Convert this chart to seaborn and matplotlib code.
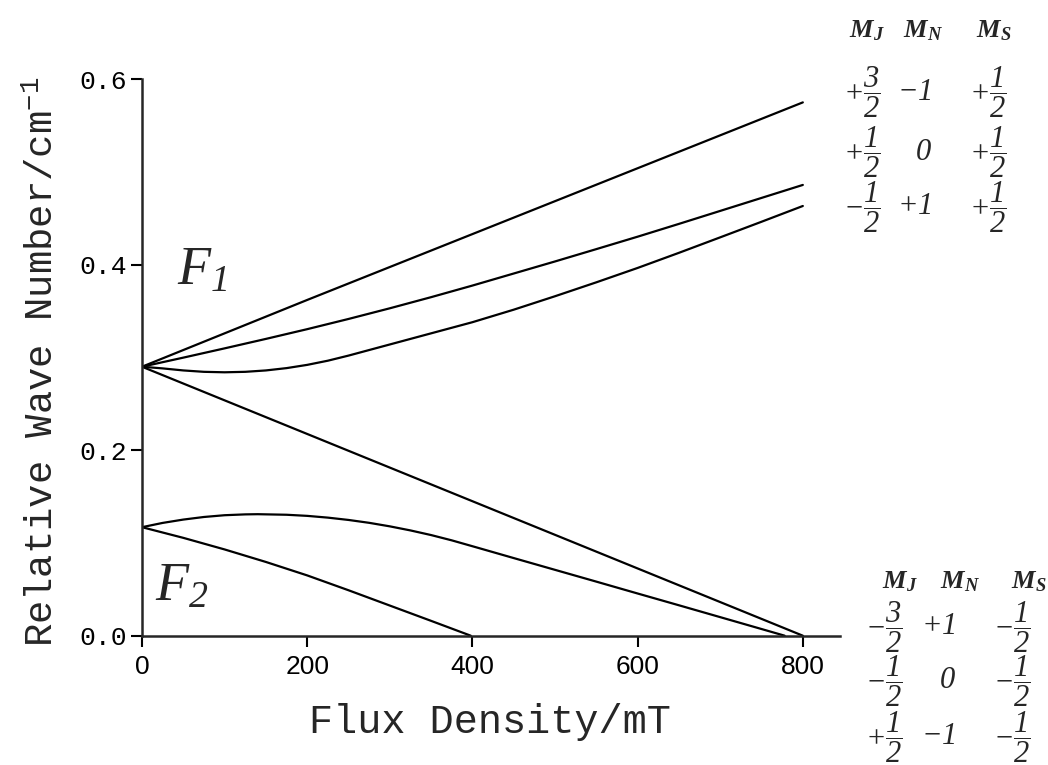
import matplotlib
matplotlib.use("Agg")
import matplotlib.pyplot as plt
import numpy as np
import pandas as pd
import seaborn as sns

# Zeeman components of the N = 1 level: flux density (mT) and relative wave number (cm^-1)
b_f1_a = [0, 200, 400, 600, 800]
nu_f1_a = [0.290, 0.362, 0.433, 0.504, 0.575]

b_f1_b = [0, 50, 100, 150, 200, 250, 300, 350, 400, 450, 500, 550, 600, 650, 700, 750, 800]
nu_f1_b = [0.290, 0.2998, 0.3098, 0.3200, 0.3305, 0.3415, 0.3530, 0.3650, 0.3775, 0.3905,
           0.4035, 0.4168, 0.4302, 0.4440, 0.4580, 0.4720, 0.4860]

b_f1_c = [0, 25, 50, 75, 100, 125, 150, 175, 200, 225, 250, 300, 350, 400, 450, 500, 550,
          600, 650, 700, 750, 800]
nu_f1_c = [0.2900, 0.2882, 0.2860, 0.2845, 0.2840, 0.2845, 0.2860, 0.2885, 0.2920, 0.2965,
           0.3020, 0.3140, 0.3260, 0.3380, 0.3515, 0.3660, 0.3810, 0.3965, 0.4128, 0.4295,
           0.4463, 0.4633]

b_f1_d = [0, 400, 800]
nu_f1_d = [0.290, 0.145, 0.000]

b_f2_a = [0, 25, 50, 75, 100, 125, 140, 175, 200, 225, 250, 275, 300, 325, 350, 375, 405,
          450, 500, 550, 600, 650, 700, 750, 778]
nu_f2_a = [0.1170, 0.1216, 0.1252, 0.1280, 0.1299, 0.1308, 0.1310, 0.1304, 0.1292, 0.1273,
           0.1248, 0.1217, 0.1179, 0.1135, 0.1085, 0.1028, 0.0952, 0.0837, 0.0710, 0.0583,
           0.0455, 0.0328, 0.0200, 0.0072, 0.0000]

b_f2_b = [0, 50, 100, 150, 200, 250, 300, 350, 398]
nu_f2_b = [0.1170, 0.1055, 0.0930, 0.0795, 0.0650, 0.0490, 0.0325, 0.0160, 0.0000]

x_ticks = [0, 200, 400, 600, 800]
x_ticklabels = ["0", "200", "400", "600", "800"]
y_ticks = [0.0, 0.2, 0.4, 0.6]
y_ticklabels = ["0.0", "0.2", "0.4", "0.6"]

# quantum-number labels (M_J, M_N, M_S) for the high-field states
upper_rows = [[r"$+\dfrac{3}{2}$", r"$-1$", r"$+\dfrac{1}{2}$"],
              [r"$+\dfrac{1}{2}$", r"$0$", r"$+\dfrac{1}{2}$"],
              [r"$-\dfrac{1}{2}$", r"$+1$", r"$+\dfrac{1}{2}$"]]
lower_rows = [[r"$-\dfrac{3}{2}$", r"$+1$", r"$-\dfrac{1}{2}$"],
              [r"$-\dfrac{1}{2}$", r"$0$", r"$-\dfrac{1}{2}$"],
              [r"$+\dfrac{1}{2}$", r"$-1$", r"$-\dfrac{1}{2}$"]]
headers = [r"$\mathbfit{M}_{\mathbfit{J}}$", r"$\mathbfit{M}_{\mathbfit{N}}$",
           r"$\mathbfit{M}_{\mathbfit{S}}$"]

curves = [("F1a", b_f1_a, nu_f1_a), ("F1b", b_f1_b, nu_f1_b), ("F1c", b_f1_c, nu_f1_c),
          ("F1d", b_f1_d, nu_f1_d), ("F2a", b_f2_a, nu_f2_a), ("F2b", b_f2_b, nu_f2_b)]
df = pd.concat([pd.DataFrame({"B": b, "nu": v, "component": name}) for name, b, v in curves],
               ignore_index=True)

sns.set_style("ticks")
plt.rcParams["font.family"] = ["Liberation Serif", "DejaVu Serif"]
# all math text in italic serif (digits and signs included)
plt.rcParams["mathtext.fontset"] = "custom"
plt.rcParams["mathtext.rm"] = "Liberation Serif:italic"
plt.rcParams["mathtext.it"] = "Liberation Serif:italic"
plt.rcParams["mathtext.bf"] = "Liberation Serif:bold"
plt.rcParams["mathtext.bfit"] = "Liberation Serif:italic:bold"
plt.rcParams["mathtext.default"] = "it"

W, H = 1048, 765
fig = plt.figure(figsize=(W / 100, H / 100), dpi=100)
fig.patch.set_facecolor("white")


def px(x, y):
    return x / W, 1 - y / H


ax = fig.add_axes([142 / W, 1 - 635.7 / H, (840 - 142) / W, (635.7 - 79.2) / H])
sns.lineplot(data=df, x="B", y="nu", units="component", estimator=None, sort=False,
             color="black", lw=1.6, ax=ax, legend=False)

ax.set_xlim(0, 845)
ax.set_ylim(0, 0.6)
ax.set_xticks(x_ticks)
ax.set_xticklabels(x_ticklabels, family=["Liberation Sans Narrow", "Liberation Sans"], fontsize=19)
ax.set_yticks(y_ticks)
ax.set_yticklabels(y_ticklabels, family="Liberation Mono", fontsize=19)
ax.set_xlabel("")
ax.set_ylabel("")
for side in ("top", "right"):
    ax.spines[side].set_visible(False)
for side in ("left", "bottom"):
    ax.spines[side].set_linewidth(1.8)
ax.tick_params(direction="out", length=8, width=1.5, color="black", labelcolor="black")
ax.tick_params(axis="x", pad=6)
ax.tick_params(axis="y", pad=3)

# axis titles
fig.text(*px(490, 722), "Flux Density/mT", family="Liberation Mono", fontsize=29,
         ha="center", va="center")
fig.text(*px(43, 362), r"Relative Wave Number/cm$^{\mathregular{-1}}$", family="Liberation Mono",
         fontsize=28, rotation=90, ha="center", va="center")

# fine-structure labels
fig.text(*px(177, 285), r"$F_{1}$", fontsize=39, ha="left", va="baseline")
fig.text(*px(155, 600), r"$F_{2}$", fontsize=39, ha="left", va="baseline")


# quantum-number tables
def table(head_x, head_y, col_right, row_y, rows):
    for hx, h in zip(head_x, headers):
        fig.text(*px(hx, head_y), h, fontsize=19, ha="left", va="center")
    for ry, row in zip(row_y, rows):
        for cx, s in zip(col_right, row):
            fig.text(*px(cx, ry), s, fontsize=22, ha="right", va="center")


table([849, 903, 976], 31, [881, 932, 1007], [92, 152, 207], upper_rows)
table([882, 940, 1011], 582, [903, 956, 1031], [627, 681, 737], lower_rows)

fig.savefig("out.png", dpi=100, facecolor="white")
